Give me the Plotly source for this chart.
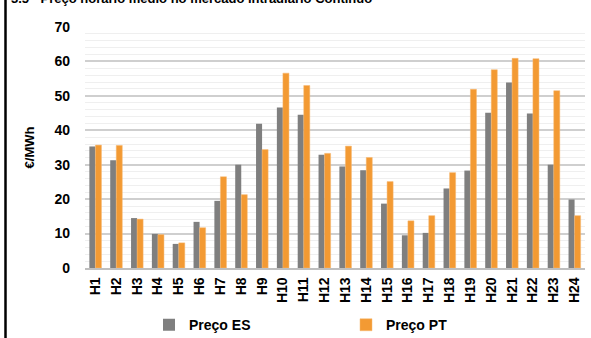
import plotly.graph_objects as go

hours = [f"H{i}" for i in range(1, 25)]
preco_es = [35.3, 31.3, 14.5, 9.9, 7.0, 13.4, 19.5, 30.0, 41.9, 46.6, 44.5, 32.9,
            29.5, 28.4, 18.7, 9.5, 10.2, 23.1, 28.3, 45.1, 53.9, 44.9, 30.0, 19.9]
preco_pt = [35.7, 35.6, 14.2, 9.7, 7.3, 11.7, 26.5, 21.3, 34.4, 56.6, 53.0, 33.3,
            35.4, 32.1, 25.1, 13.7, 15.2, 27.7, 51.9, 57.6, 60.9, 60.8, 51.5, 15.2]
y_ticks = [0, 10, 20, 30, 40, 50, 60, 70]

FONT = "Liberation Sans, Arial, sans-serif"

fig = go.Figure()
fig.add_trace(go.Bar(x=hours, y=preco_es, name="<b>Preço ES</b>",
                     marker=dict(color="#7F7F7F", line=dict(width=0))))
fig.add_trace(go.Bar(x=hours, y=preco_pt, name="<b>Preço PT</b>",
                     marker=dict(color="#F39A33", line=dict(color="#F7B873", width=0.5))))

fig.update_layout(
    width=591, height=338,
    margin=dict(l=85, r=6, t=27, b=70, autoexpand=False),
    paper_bgcolor="white", plot_bgcolor="white",
    barmode="group", bargap=0.42, bargroupgap=0,
    font=dict(family=FONT, size=14, color="black"),
    showlegend=True,
    legend=dict(orientation="h", x=0.128, xanchor="left",
                yref="container", y=0.038, yanchor="middle",
                font=dict(size=14), entrywidth=152, itemwidth=30,
                bgcolor="rgba(0,0,0,0)"),
    xaxis=dict(tickangle=-90, tickfont=dict(size=14), automargin=False,
               ticks="", showline=True, linecolor="#BFBFBF", linewidth=1.5,
               tickprefix="<b>", ticksuffix="</b>", ticklabelstandoff=2),
    yaxis=dict(range=[0, 70], tickvals=y_ticks, ticktext=[f"<b>{v}</b>" for v in y_ticks],
               tickfont=dict(size=14), showgrid=True, gridcolor="#CFCFCF", gridwidth=1.5,
               minor=dict(dtick=2, showgrid=True, gridcolor="#EFEFEF", gridwidth=1),
               zeroline=False, ticklabelstandoff=14, automargin=False,
               title=dict(text="<b>€/MWh</b>", font=dict(size=13), standoff=16)),
)

fig.add_annotation(text="<b>3.5 - Preço horário médio no mercado intradiário Contínuo</b>",
                   xref="paper", yref="paper", x=-0.152, y=1.12,
                   xanchor="left", yanchor="middle", showarrow=False,
                   font=dict(size=13, color="black"))

fig.add_shape(type="line", xref="paper", yref="paper",
              x0=-0.159, x1=-0.159, y0=-0.35, y1=1.2,
              line=dict(color="black", width=2.5))

fig.write_html("out.html", config={"displayModeBar": False},
               post_script="document.body.style.margin='0';")
